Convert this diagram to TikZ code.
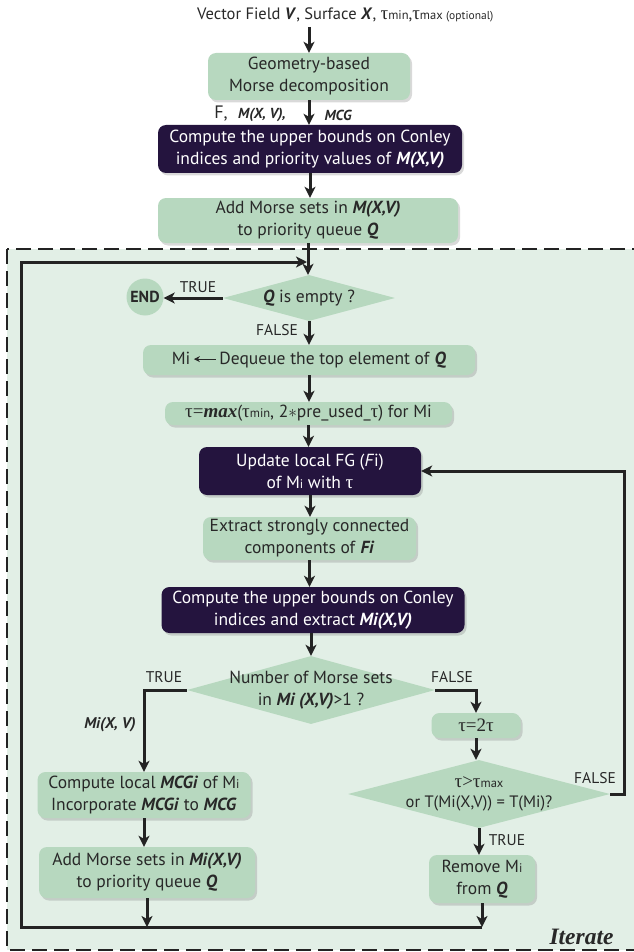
\documentclass[tikz,border=0pt]{standalone}
\usepackage{fontspec}
\setmainfont{PT Sans}
\newfontfamily\timesfont{Liberation Serif}
\usetikzlibrary{shapes.geometric,arrows.meta,shadows}

\definecolor{boxgreen}{RGB}{183,216,191}
\definecolor{boxdark}{RGB}{36,20,62}
\definecolor{iterbg}{RGB}{226,239,230}
\definecolor{linegray}{RGB}{35,35,35}
\definecolor{textgray}{RGB}{40,40,40}

\newcommand{\bi}[1]{\textbf{\textit{#1}}}
\newcommand{\sml}[1]{{\fontsize{12.5}{12.5}\selectfont #1}}
\newcommand{\tu}{{\timesfont\fontsize{19}{19}\selectfont τ}}
\newcommand{\getarrow}{\tikz[baseline=-0.6ex]\draw[line width=1.2pt, draw=textgray,
  -{Stealth[length=6pt,width=6pt]}] (0pt,0pt) -- (-22pt,0pt);}

\tikzset{
  greenbox/.style={rectangle, rounded corners=8pt, fill=boxgreen, text=textgray,
    align=center, inner sep=0pt, font=\fontsize{17.5}{22}\selectfont,
    drop shadow={shadow xshift=2pt, shadow yshift=-2.5pt, opacity=0.3}},
  darkbox/.style={greenbox, fill=boxdark, text=white},
  decision/.style={diamond, fill=boxgreen, inner sep=0pt},
  endnode/.style={circle, fill=boxgreen, text=textgray, inner sep=0pt,
    minimum size=37pt, font=\bfseries\fontsize{16}{16}\selectfont},
  tag/.style={text=textgray, inner sep=0pt, font=\fontsize{15.5}{15.5}\selectfont},
  flow/.style={line width=3pt, draw=linegray, -{Stealth[length=11pt,width=11pt,inset=3pt]}},
}

\begin{document}
\begin{tikzpicture}[x=1pt, y=-1pt]
\useasboundingbox (0,0) rectangle (633,952);

% iteration area
\draw[dash pattern=on 15pt off 7pt, line width=2.2pt, draw=linegray, fill=iterbg] (7,249) rectangle (660,950);

% input and preprocessing
\node[tag, anchor=west, font=\fontsize{16.5}{17}\selectfont] (input) at (197,15)
  {Vector Field \bi{V}, Surface \bi{X}, \tu\sml{min},\tu\sml{max {\fontsize{11.5}{11.5}\selectfont(optional)}}};
\coordinate (inputend) at (309,27);
\node[greenbox, minimum width=202pt, minimum height=47pt] (morsedec) at (309,76.5)
  {Geometry-based\\Morse decomposition};
\node[tag, font=\fontsize{18}{18}\selectfont] (lblF) at (221,114) {F,};
\node[tag, font=\bfseries\itshape\fontsize{14.5}{14.5}\selectfont] (lblM) at (262,115) {M(X, V),};
\node[tag, font=\bfseries\itshape\fontsize{14.5}{14.5}\selectfont] (lblMCG) at (338,115) {MCG};
\node[darkbox, minimum width=304pt, minimum height=48pt] (bounds) at (310,149)
  {Compute the upper bounds on Conley\\indices and priority values of \bi{M(X,V)}};
\node[greenbox, minimum width=300pt, minimum height=45pt] (enqueue) at (308,220.5)
  {Add Morse sets in \bi{M(X,V)}\\to priority queue \bi{Q}};

% main loop
\node[decision, minimum width=172pt, minimum height=46pt,
  label={[tag, font=\fontsize{17.5}{17.5}\selectfont]center:{\bi{Q} is empty ?}}] (isempty) at (309,298) {};
\node[endnode] (stop) at (145,297) {END};
\node[tag] (lbltrue1) at (198,287) {TRUE};
\node[tag] (lblfalse1) at (277,330) {FALSE};
\node[greenbox, minimum width=332pt, minimum height=30pt] (dequeue) at (309,360)
  {Mi\,\getarrow\,Dequeue the top element of \bi{Q}};
\node[greenbox, minimum width=287pt, minimum height=23pt] (tauset) at (308.5,413.5)
  {\tu{\timesfont\fontsize{19}{19}\selectfont=\bfseries\itshape max}(\tu\sml{min}, 2$*$pre\_used\_\tu) for Mi};
\node[darkbox, minimum width=222pt, minimum height=48pt] (update) at (310,471)
  {Update local FG (\textit{F}i)\\of M\sml{i} with \tu};
\node[greenbox, minimum width=213pt, minimum height=43pt] (extract) at (309.5,538.5)
  {Extract strongly connected\\components of \bi{Fi}};
\node[darkbox, minimum width=303pt, minimum height=46pt] (bounds2) at (313,610)
  {Compute the upper bounds on Conley\\indices and extract \bi{Mi(X,V)}};
\node[decision, minimum width=248pt, minimum height=68pt,
  label={[tag, align=center, font=\fontsize{17.5}{22}\selectfont]center:{Number of Morse sets\\in \bi{Mi (X,V)}>1 ?}}] (multi) at (311,690) {};
\node[tag] (lbltrue2) at (164,677) {TRUE};
\node[tag] (lblfalse2) at (452,677) {FALSE};

% TRUE branch
\node[tag, font=\bfseries\itshape\fontsize{15.5}{15.5}\selectfont] (lblmi) at (110,725) {Mi(X, V)};
\node[greenbox, minimum width=213pt, minimum height=46pt] (localmcg) at (144,795)
  {Compute local \bi{MCGi} of M\sml{i}\\Incorporate \bi{MCGi} to \bi{MCG}};
\node[greenbox, minimum width=216pt, minimum height=51pt] (enqueue2) at (147,872.5)
  {Add Morse sets in \bi{Mi(X,V)}\\to priority queue \bi{Q}};

% FALSE branch
\node[greenbox, minimum width=89pt, minimum height=25pt] (double) at (476,725.5)
  {\tu{\timesfont\fontsize{19}{19}\selectfont=2}\tu};
\node[decision, minimum width=262pt, minimum height=68pt,
  label={[tag, align=center, font=\fontsize{16.5}{20}\selectfont]center:{\tu{\timesfont\fontsize{19}{19}\selectfont>}\tu\sml{max}\\or T(Mi(X,V)) = T(Mi)?}}] (tmax) at (479,794) {};
\node[tag] (lblfalse3) at (595,778) {FALSE};
\node[tag] (lbltrue3) at (507,840) {TRUE};
\node[greenbox, minimum width=106pt, minimum height=48pt] (remove) at (482,879)
  {Remove M\sml{i}\\from \bi{Q}};
\node[anchor=east, text=textgray, font=\timesfont\bfseries\itshape\fontsize{23.5}{23.5}\selectfont] (iterate) at (617,937) {Iterate};

% connectors
\draw[flow] (inputend) -- (inputend |- morsedec.north);
\draw[flow] (morsedec.south) -- (morsedec.south |- bounds.north);
\draw[flow] (bounds.south) -- (bounds.south |- enqueue.north);
\draw[flow] (enqueue.south) -- (enqueue.south |- isempty.north);
\draw[flow] (isempty.west) -- (isempty.west -| stop.east);
\draw[flow] (isempty.south) -- (isempty.south |- dequeue.north);
\draw[flow] (dequeue.south) -- (dequeue.south |- tauset.north);
\draw[flow] (tauset.south) -- (tauset.south |- update.north);
\draw[flow] (update.south) -- (update.south |- extract.north);
\draw[flow] (extract.south) -- (extract.south |- bounds2.north);
\draw[flow] (bounds2.south -| multi.north) -- (multi.north);
\draw[flow] (multi.west) -| (localmcg.north);
\draw[flow] (multi.east) -| (double.north);
\draw[flow] (localmcg.south) -- (localmcg.south |- enqueue2.north);
\draw[flow] (double.south) -- (double.south |- tmax.north);
\draw[flow] (tmax.south) -- (tmax.south |- remove.north);
\draw[flow] (tmax.east) -- ++(14,0) |- (update.east);

% back to the queue
\coordinate (loopleft) at (21,927);
\coordinate (looptop) at (21,262);
\draw[flow] (enqueue2.south) -- (enqueue2.south |- loopleft);
\draw[flow] (remove.south) -- (remove.south |- loopleft);
\draw[flow, shorten >=2pt] (remove.south |- loopleft) -- (loopleft) -- (looptop) -- (looptop -| isempty.north);
\end{tikzpicture}
\end{document}
